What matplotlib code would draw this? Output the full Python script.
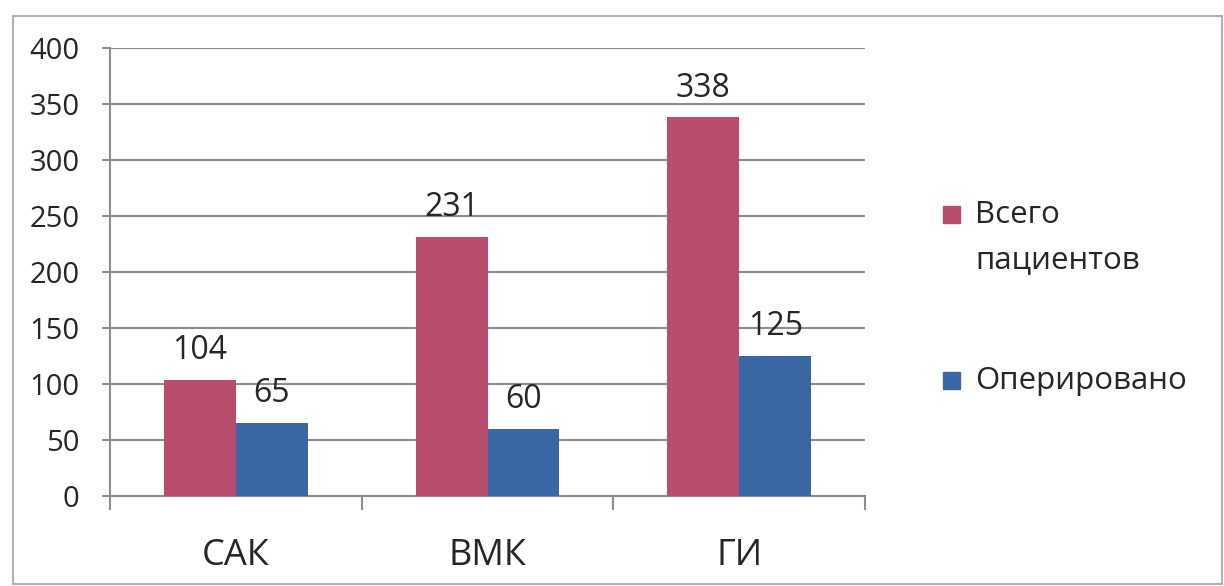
import matplotlib
matplotlib.use("Agg")
import matplotlib.pyplot as plt
from matplotlib.patches import Rectangle
import numpy as np

categories = ["САК", "ВМК", "ГИ"]
series_names = ["Всего\nпациентов", "Оперировано"]
total_patients = [104, 231, 338]
operated = [65, 60, 125]
y_ticks = [0, 50, 100, 150, 200, 250, 300, 350, 400]

colors = ["#B84C6C", "#3A68A5"]
grid_col = "#8C8C96"
W, H = 1224, 586
plt.rcParams["font.family"] = ["Open Sans", "DejaVu Sans"]
txt_col = "#262626"

fig = plt.figure(figsize=(W / 100, H / 100), dpi=100)
fig.patch.set_facecolor("white")

def fx(x):
    return x / W

def fy(y):
    return 1 - y / H

# outer chart frame
fig.patches.append(Rectangle((fx(13), fy(584)), fx(1222) - fx(13), fy(16) - fy(584),
                             transform=fig.transFigure, fill=False,
                             edgecolor="#B0B0B8", linewidth=1.5))

ax = fig.add_axes([fx(110), fy(496), fx(865) - fx(110), fy(48) - fy(496)])
x = np.arange(len(categories))
bw = 0.286
series = [total_patients, operated]
for i, (vals, col) in enumerate(zip(series, colors)):
    pos = x + (i - 0.5) * bw
    ax.bar(pos, vals, width=bw, color=col, zorder=3)
    for p, v in zip(pos, vals):
        ax.annotate(str(v), (p, v), xytext=(0, 15), textcoords="offset points",
                    ha="center", va="baseline", fontsize=23, color=txt_col, zorder=4)

ax.set_xlim(-0.5, len(categories) - 0.5)
ax.set_ylim(0, 400)
ax.set_yticks(y_ticks)
ax.set_yticklabels([str(t) for t in y_ticks], fontsize=21, color=txt_col)
ax.yaxis.grid(True, color=grid_col, linewidth=1.5, zorder=0)
ax.set_axisbelow(True)

ax.set_xticks(x)
ax.set_xticklabels(categories, fontsize=26, color=txt_col)
ax.set_xticks(np.arange(len(categories) + 1) - 0.5, minor=True)
ax.tick_params(axis="x", which="major", length=0, pad=30)
ax.tick_params(axis="x", which="minor", length=10, width=1.5, color=grid_col)
ax.tick_params(axis="y", length=6, width=1.5, color=grid_col, pad=16)

for s in ["top", "right"]:
    ax.spines[s].set_visible(False)
for s in ["left", "bottom"]:
    ax.spines[s].set_color(grid_col)
    ax.spines[s].set_linewidth(1.5)

# legend
leg_sq = [(943, 206), (943, 372)]
leg_txt = [(975, 223), (975, 389)]
line_step = 45
for (sx, sy), (tx, ty), name, col in zip(leg_sq, leg_txt, series_names, colors):
    fig.patches.append(Rectangle((fx(sx), fy(sy + 17)), fx(17), 17 / H,
                                 transform=fig.transFigure, color=col))
    for k, line in enumerate(name.split("\n")):
        fig.text(fx(tx), fy(ty + k * line_step), line, fontsize=22.5, color=txt_col,
                 va="baseline", ha="left")

fig.savefig("out.png", dpi=100)
